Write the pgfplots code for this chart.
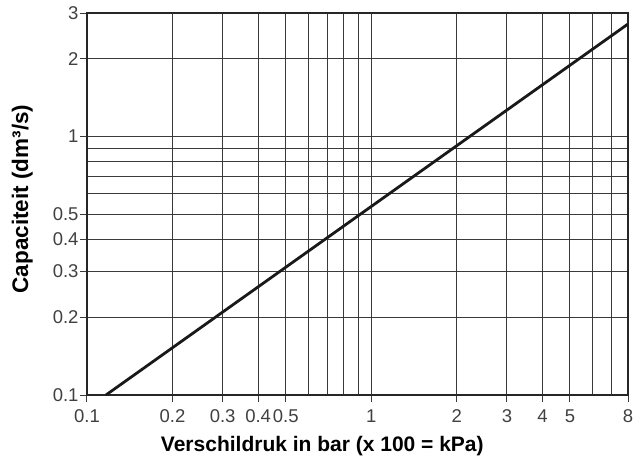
\documentclass[border=0pt]{standalone}
\usepackage{fontspec}
\setmainfont{Liberation Sans}
\usepackage{pgfplots}
\pgfplotsset{compat=1.18}
\definecolor{gridc}{HTML}{3A3A3A}
\definecolor{tickc}{HTML}{404040}
\begin{document}
\begin{tikzpicture}
\path[use as bounding box] (-87pt,-64pt) rectangle (547pt,395pt);
\begin{axis}[
  at={(0,0)}, anchor=south west,
  scale only axis, width=541pt, height=382pt,
  xmode=log, ymode=log,
  xmin=0.1, xmax=8, ymin=0.1, ymax=3,
  xtick={0.1,0.2,0.3,0.4,0.5,1,2,3,4,5,8},
  xticklabels={0.1,0.2,0.3,0.4,0.5,1,2,3,4,5,8},
  ytick={0.1,0.2,0.3,0.4,0.5,1,2,3},
  yticklabels={0.1,0.2,0.3,0.4,0.5,1,2,3},
  minor xtick={0.6,0.7,0.8,0.9,6,7},
  minor ytick={0.6,0.7,0.8,0.9},
  grid=both,
  major grid style={gridc, line width=1pt},
  minor grid style={gridc, line width=1pt},
  minor tick length=0pt,
  major tick length=7pt,
  tick align=outside,
  xtick pos=bottom, ytick pos=left,
  tick style={gridc, line width=1pt},
  axis line style={black!85, line width=1.6pt},
  /pgf/number format/assume math mode=true,
  tick label style={font=\fontsize{18.5}{18.5}\selectfont, text=tickc},
  xticklabel style={anchor=north, text height=13.3pt, text depth=0pt, yshift=-4pt},
  yticklabel style={anchor=east, xshift=2pt},
  xlabel={\textbf{Verschildruk in bar (x 100 = kPa)}},
  ylabel={\textbf{Capaciteit (dm³/s)}},
  xlabel style={font=\fontsize{21}{21}\selectfont, at={(axis description cs:0.435,-0.149)}, anchor=base},
  ylabel style={font=\fontsize{22.5}{22.5}\selectfont, at={(axis description cs:-0.109,0.513)}, anchor=base},
  clip=true,
]
\addplot[black!90, line width=2.8pt] coordinates {(0.1166,0.1) (8,2.72)};
\end{axis}
\end{tikzpicture}
\end{document}
